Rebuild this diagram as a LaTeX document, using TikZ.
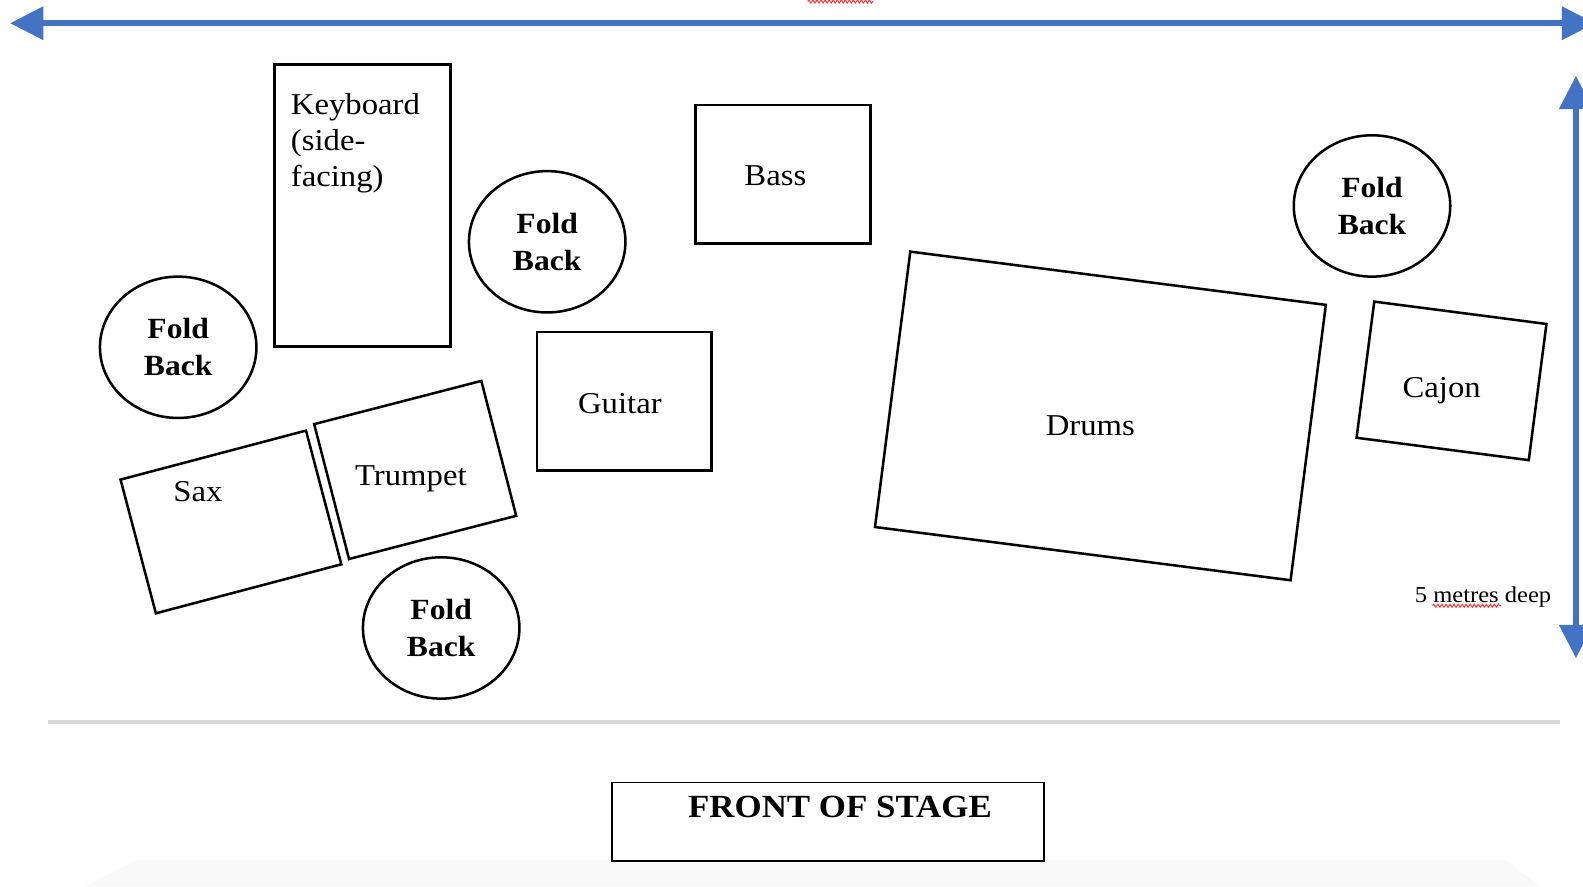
\documentclass[tikz,border=0pt]{standalone}
\usepackage{fontspec}
\setmainfont{Liberation Serif}[FakeStretch=1.08]
\usetikzlibrary{arrows.meta,shapes.geometric,decorations.pathmorphing}
\definecolor{stageblue}{RGB}{68,114,196}
\begin{document}
\begin{tikzpicture}[x=1pt,y=-1pt,
	kit/.style={draw,line width=2.5pt,inner sep=0pt},
	foldback/.style={kit,ellipse,minimum width=155pt,minimum height=140pt,align=center,font=\fontsize{29}{37}\selectfont\bfseries},
	lbl/.style={inner sep=0pt,anchor=base,font=\fontsize{30}{36}\selectfont},
	span/.style={{Triangle[length=33pt,width=32pt]}-{Triangle[length=33pt,width=32pt]},line width=6pt,stageblue},
	squiggle/.style={red!80,line width=1pt,decorate,decoration={snake,amplitude=1.5pt,segment length=4pt}}]
	\fill[white] (0,0) rectangle (1568,878);
	\useasboundingbox (0,0) rectangle (1568,878);
	% floor edge and back of the hall
	\fill[gray!5] (135,852) -- (1491,852) -- (1525,878) -- (84,878) -- cycle;
	\draw[gray!30,line width=4pt] (48,715) -- (1545,715);
	% width and depth
	\coordinate (wL) at (10,23);
	\coordinate (wR) at (1580,23);
	\coordinate (dT) at (1561,75);
	\coordinate (dB) at (1561,652);
	\draw[span] (wL) -- (wR);
	\draw[span] (dT) -- (dB);
	\draw[squiggle] (800,1.5) -- (865,1.5);
	\node[lbl,font=\fontsize{22.5}{27}\selectfont] (depth) at (1469,597) {5 metres deep};
	\draw[squiggle] (1419,600) -- (1487,600);
	% instruments
	\node[kit,minimum width=174pt,minimum height=279pt] (kbd) at (359,203.5) {};
	\node[lbl,align=left,anchor=north west] (kbdtxt) at (288,92) {Keyboard\\(side-\\facing)};
	\node[kit,minimum width=173pt,minimum height=137pt] (bass) at (775.5,172.5) {};
	\node[lbl] (basstxt) at (768,184) {Bass};
	\node[kit,minimum width=173pt,minimum height=137pt] (guitar) at (618.5,397.5) {};
	\node[lbl] (guitartxt) at (614,410) {Guitar};
	\node[kit,minimum width=415pt,minimum height=275pt,rotate=-7.3] (drums) at (1090,412) {};
	\node[lbl] (drumstxt) at (1080,431) {Drums};
	\node[kit,minimum width=172pt,minimum height=136pt,rotate=-7.4] (cajon) at (1437.75,377.25) {};
	\node[lbl] (cajontxt) at (1428,394) {Cajon};
	\node[kit,minimum width=190pt,minimum height=137pt,rotate=14.8] (sax) at (228.75,517) {};
	\node[lbl] (saxtxt) at (196,497) {Sax};
	\node[kit,minimum width=171pt,minimum height=138pt,rotate=14.5] (trumpet) at (411.25,465.5) {};
	\node[lbl] (trumpettxt) at (407,481) {Trumpet};
	% monitors
	\node[foldback] (fb1) at (176.5,344) {Fold\\Back};
	\node[foldback] (fb2) at (542,239.5) {Fold\\Back};
	\node[foldback] (fb3) at (437,622) {Fold\\Back};
	\node[foldback] (fb4) at (1359,204) {Fold\\Back};
	% audience side
	\node[draw,line width=1.5pt,minimum width=428pt,minimum height=78pt] (front) at (820,814) {};
	\node[lbl,font=\fontsize{32}{38}\selectfont\bfseries] (fronttxt) at (832,810) {FRONT OF STAGE};
\end{tikzpicture}
\end{document}
